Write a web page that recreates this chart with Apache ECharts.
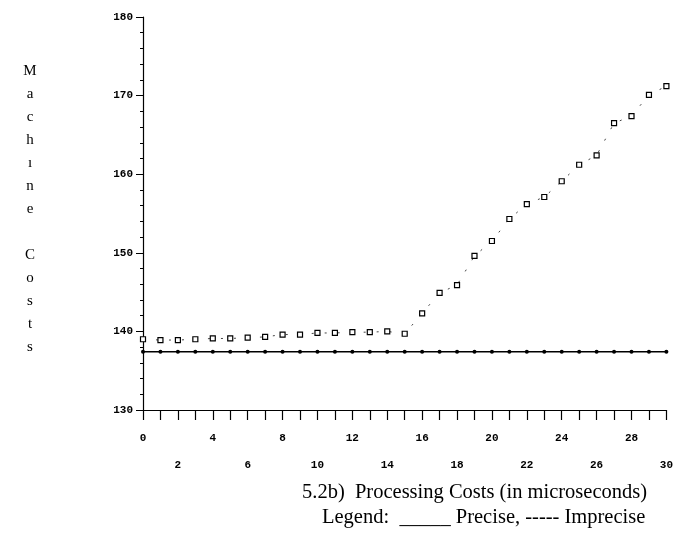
<!DOCTYPE html>
<html>
<head>
<meta charset="utf-8">
<script src="https://cdn.jsdelivr.net/npm/echarts@6/dist/echarts.min.js"></script>
<style>
  html, body { margin: 0; padding: 0; background: #fff; }
  #grafico { width: 676px; height: 548px; }
</style>
</head>
<body>
<div id="grafico"></div>
<script>
// processing cost in microseconds, 0..30
const custos = [0, 1, 2, 3, 4, 5, 6, 7, 8, 9, 10, 11, 12, 13, 14, 15,
  16, 17, 18, 19, 20, 21, 22, 23, 24, 25, 26, 27, 28, 29, 30];

const preciso = [137.4, 137.4, 137.4, 137.4, 137.4, 137.4, 137.4, 137.4,
  137.4, 137.4, 137.4, 137.4, 137.4, 137.4, 137.4, 137.4, 137.4, 137.4,
  137.4, 137.4, 137.4, 137.4, 137.4, 137.4, 137.4, 137.4, 137.4, 137.4,
  137.4, 137.4, 137.4];

const impreciso = [139.0, 138.9, 138.9, 139.0, 139.1, 139.1, 139.2, 139.3,
  139.6, 139.6, 139.8, 139.8, 139.9, 139.9, 140.0, 139.7, 142.3, 144.9,
  145.9, 149.6, 151.5, 154.3, 156.2, 157.1, 159.1, 161.2, 162.4, 166.5,
  167.4, 170.1, 171.2];

const rotuloY = ["M", "a", "c", "h", "ı", "n", "e", "", "C", "o", "s", "t", "s"];
const titulo = "5.2b)  Processing Costs (in microseconds)";
const legenda = "Legend:  _____ Precise, ----- Imprecise";

const chart = echarts.init(document.getElementById("grafico"));

const fonteEixo = {
  fontFamily: "Liberation Mono",
  fontWeight: "bold",
  fontSize: 11,
  color: "#000",
};

var option = {
  animation: false,
  backgroundColor: "#fff",
  grid: { left: 143, right: 6, top: 17, bottom: 138 },
  xAxis: {
    type: "value",
    min: 0,
    max: 30,
    interval: 1,
    splitLine: { show: false },
    axisLine: { lineStyle: { color: "#000", width: 1.2 } },
    axisTick: { length: 10, lineStyle: { color: "#000", width: 1.2 } },
    axisLabel: {
      ...fonteEixo,
      margin: 15,
      lineHeight: 27,
      showMinLabel: true,
      showMaxLabel: true,
      formatter: (v) => {
        if (v % 4 === 0) return String(v);
        if (v % 2 === 0) return "\n" + v;
        return "";
      },
    },
  },
  yAxis: {
    type: "value",
    min: 130,
    max: 180,
    interval: 10,
    splitLine: { show: false },
    axisLine: { show: true, lineStyle: { color: "#000", width: 1.2 } },
    axisTick: { length: 7, lineStyle: { color: "#000", width: 1 } },
    minorTick: { show: true, splitNumber: 5, length: 3, lineStyle: { color: "#000" } },
    axisLabel: { ...fonteEixo, margin: 10 },
  },
  series: [
    {
      name: "Precise",
      type: "line",
      data: custos.map((c, i) => [c, preciso[i]]),
      symbol: "circle",
      symbolSize: 4,
      itemStyle: { color: "#000" },
      lineStyle: { color: "#000", width: 1.5 },
    },
    {
      name: "Imprecise",
      type: "line",
      data: custos.map((c, i) => [c, impreciso[i]]),
      symbol: "rect",
      symbolSize: 5,
      itemStyle: { color: "#fff", borderColor: "#000", borderWidth: 1.2 },
      lineStyle: { color: "#444", width: 1, type: [2, 11] },
    },
  ],
  graphic: [
    {
      type: "text",
      style: {
        x: 30,
        y: 60,
        text: rotuloY.join("\n"),
        textAlign: "center",
        lineHeight: 23,
        font: "15px 'Liberation Serif'",
        fill: "#000",
      },
    },
    {
      type: "text",
      style: {
        x: 302,
        y: 482,
        text: titulo,
        font: "20.5px 'Liberation Serif'",
        fill: "#000",
      },
    },
    {
      type: "text",
      style: {
        x: 322,
        y: 507,
        text: legenda,
        font: "20.5px 'Liberation Serif'",
        fill: "#000",
      },
    },
  ],
};

option && chart.setOption(option);
</script>
</body>
</html>
